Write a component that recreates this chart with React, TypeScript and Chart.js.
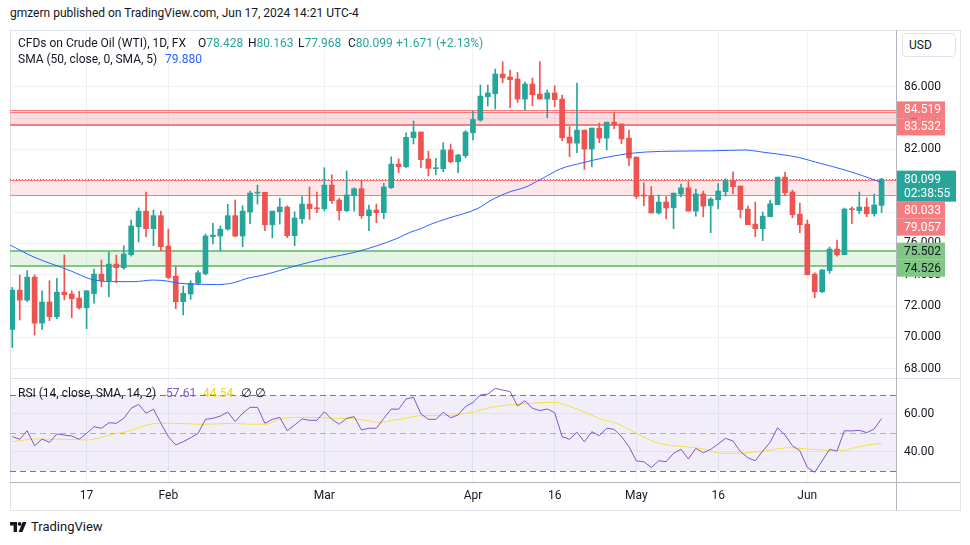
import React, { useEffect, useRef } from "react";
import { Chart, registerables } from "chart.js";

Chart.register(...registerables);

// ---------------- data ----------------
const opens = [
  70.51, 73.02, 72.38, 73.85, 70.91, 72.26, 71.32, 72.89, 72.77, 72.51,
  71.89, 72.79, 74.04, 73.62, 74.68, 74.45, 75.28, 77.06, 78.06, 76.94,
  77.77, 75.83, 73.91, 72.28, 72.77, 73.45, 74.06, 76.43, 76.47, 76.91,
  77.77, 76.47, 78.0, 79.21, 79.26, 77.19, 78.02, 78.32, 76.49, 77.57,
  78.51, 78.26, 78.21, 79.72, 78.77, 78.09, 79.04, 79.49, 77.77, 78.13,
  77.96, 79.55, 81.06, 80.89, 82.74, 83.11, 81.38, 80.77, 80.77, 81.96,
  81.21, 81.6, 83.06, 83.87, 85.36, 85.55, 86.81, 86.62, 86.49, 85.21,
  86.17, 85.53, 85.21, 85.6, 85.21, 82.79, 82.4, 83.23, 82.02, 83.36,
  82.72, 83.74, 83.62, 82.72, 81.51, 79.09, 79.04, 77.94, 78.64, 78.28,
  79.15, 79.55, 78.06, 79.15, 78.4, 78.79, 79.3, 80.0, 79.66, 78.19,
  77.23, 76.94, 77.7, 78.47, 80.23, 79.28, 77.87, 77.23, 74.04, 72.91,
  74.26, 75.64, 75.28, 78.19, 78.09, 78.32, 77.89, 78.428,
];
const highs = [
  73.19, 73.98, 74.26, 73.98, 72.98, 73.62, 73.77, 75.26, 72.98, 72.94,
  72.98, 74.36, 74.94, 75.45, 75.26, 75.85, 77.49, 78.26, 79.28, 78.13,
  78.06, 76.91, 74.51, 73.28, 73.62, 74.26, 76.6, 77.28, 77.11, 78.49,
  78.77, 78.4, 79.34, 79.72, 79.26, 78.06, 78.89, 78.4, 78.02, 78.98,
  79.6, 79.28, 80.83, 80.38, 78.89, 80.62, 79.55, 80.04, 78.45, 78.51,
  79.83, 81.53, 81.4, 83.06, 83.81, 83.11, 81.89, 81.43, 82.43, 82.34,
  81.68, 83.19, 84.45, 86.11, 86.11, 87.13, 87.6, 87.06, 86.91, 86.3,
  86.55, 87.6, 85.79, 86.06, 85.47, 83.45, 86.23, 83.23, 83.36, 83.68,
  83.74, 84.38, 83.62, 83.23, 81.51, 79.87, 79.62, 79.09, 78.98, 79.21,
  79.79, 79.94, 79.47, 79.34, 78.91, 79.81, 80.13, 80.57, 79.66, 78.38,
  78.64, 78.0, 78.77, 80.23, 80.55, 79.4, 78.57, 77.49, 74.13, 74.34,
  75.77, 76.21, 78.26, 78.34, 79.28, 78.91, 79.15, 80.163,
];
const lows = [
  69.36, 71.11, 72.28, 70.15, 70.51, 71.06, 71.19, 72.4, 71.26, 71.81,
  70.55, 72.19, 73.23, 72.6, 73.49, 74.34, 75.19, 76.09, 76.43, 75.85,
  75.53, 73.74, 71.83, 71.43, 72.43, 73.4, 73.98, 75.96, 75.53, 76.85,
  76.43, 75.79, 77.26, 78.51, 76.81, 76.36, 77.23, 76.36, 75.85, 77.28,
  77.53, 77.94, 78.06, 78.55, 77.49, 78.02, 78.06, 77.6, 76.81, 77.32,
  77.57, 79.51, 80.51, 80.83, 82.34, 80.83, 80.3, 80.38, 80.57, 81.15,
  80.51, 81.47, 82.6, 83.81, 84.77, 84.57, 86.26, 84.66, 85.0, 84.51,
  84.79, 85.21, 84.02, 84.72, 82.55, 81.53, 81.79, 80.72, 80.89, 82.43,
  81.96, 83.32, 82.36, 80.96, 78.87, 78.4, 77.94, 77.87, 77.57, 76.94,
  78.96, 78.06, 77.74, 77.7, 76.68, 78.21, 79.02, 79.15, 77.64, 77.19,
  76.43, 76.17, 77.7, 78.47, 79.04, 77.64, 76.68, 74.0, 72.53, 72.85,
  74.09, 75.19, 75.28, 77.26, 77.89, 77.7, 77.74, 77.968,
];
const closes = [
  73.02, 72.38, 73.85, 70.91, 72.26, 71.32, 72.89, 72.72, 72.47, 71.89,
  72.98, 74.04, 73.62, 74.68, 74.45, 75.32, 77.11, 78.06, 76.94, 77.77,
  75.79, 73.83, 72.28, 72.81, 73.45, 74.13, 76.47, 76.53, 76.91, 77.77,
  76.47, 78.06, 79.21, 79.26, 77.19, 78.06, 78.32, 76.49, 77.62, 78.51,
  78.21, 78.21, 79.72, 78.72, 78.09, 79.09, 79.49, 77.77, 78.13, 77.96,
  79.6, 81.06, 80.89, 82.77, 83.11, 81.34, 80.79, 80.81, 81.96, 81.21,
  81.64, 83.11, 83.91, 85.4, 85.6, 86.81, 86.57, 86.45, 85.21, 86.17,
  85.49, 85.21, 85.6, 85.17, 82.74, 82.4, 83.23, 82.02, 83.36, 82.72,
  83.74, 83.55, 82.66, 81.45, 79.0, 79.02, 77.94, 78.64, 78.26, 79.21,
  79.55, 78.06, 79.15, 78.38, 78.83, 79.34, 80.0, 79.62, 78.15, 77.19,
  76.94, 77.74, 78.53, 80.23, 79.23, 77.83, 77.19, 74.0, 72.91, 74.3,
  75.64, 75.28, 78.19, 78.15, 78.32, 77.89, 78.45, 80.099,
];

// SMA(50) line: bar position / value
const smaX = [
  -0.31, 2.8, 7.9, 10.5, 13.2, 16.3, 19, 20.8, 22.6, 25.3, 27.5, 29.8, 31.6,
  33.5, 35.5, 38, 42.5, 45.8, 48.9, 51.8, 53.5, 55.1, 56.2, 58.5, 62.7, 64.3,
  65.4, 67, 69, 71.1, 73.8, 76.8, 79.5, 82.5, 85.2, 89.6, 94.1, 98.6, 100.9,
  105.8, 108.1, 112.1, 116.8, 117,
];
const smaY = [
  75.9, 75.15, 74.24, 73.73, 73.56, 73.56, 73.66, 73.6, 73.45, 73.39, 73.37,
  73.49, 73.77, 73.95, 74.2, 74.55, 75.08, 75.4, 75.82, 76.32, 76.7, 76.96,
  77.2, 77.58, 78.24, 78.72, 78.98, 79.3, 79.58, 80.08, 80.76, 81.15, 81.45,
  81.7, 81.83, 81.89, 81.91, 81.96, 81.83, 81.49, 81.19, 80.68, 79.92, 79.88,
];

// RSI(14), one value per bar
const rsiValues = [
  48.1, 46.7, 51.2, 43.3, 46.8, 45.1, 49.5, 48.9, 48.4, 46.7,
  49.8, 53.3, 52.5, 55.4, 55.1, 57.7, 63.0, 65.1, 60.4, 62.5,
  55.1, 48.1, 43.7, 45.4, 47.5, 49.8, 57.2, 57.7, 58.9, 61.1,
  56.0, 60.4, 63.5, 63.5, 55.1, 57.2, 58.2, 51.2, 54.2, 57.4,
  56.7, 56.7, 61.2, 57.2, 54.6, 57.7, 58.6, 51.6, 52.5, 52.5,
  57.7, 62.6, 62.5, 67.9, 68.8, 60.0, 57.2, 57.2, 60.9, 58.0,
  59.5, 63.9, 66.1, 70.0, 70.5, 73.5, 72.6, 71.8, 64.2, 67.0,
  63.0, 61.8, 62.6, 60.7, 48.1, 46.7, 50.4, 45.4, 50.7, 48.6,
  52.5, 51.9, 48.1, 42.8, 35.3, 34.9, 31.8, 35.4, 34.9, 39.3,
  41.4, 36.3, 41.9, 39.6, 41.4, 44.2, 47.2, 45.8, 40.2, 37.0,
  35.4, 40.5, 45.1, 52.8, 48.9, 43.3, 40.7, 31.9, 29.3, 35.3,
  41.4, 40.5, 51.2, 51.1, 51.4, 50.2, 52.1, 57.61,
];

// RSI-based MA
const rsiMaX = [
  0, 3, 5.5, 7, 10, 12, 14, 15.4, 17.2, 19.4, 20.8, 23, 25.2, 27.5, 29.7, 32,
  34.2, 35.6, 36.5, 38.7, 40.9, 43.2, 45.4, 47.7, 49.5, 51.3, 53, 54.8, 56.6,
  59.9, 62.2, 64.5, 66.7, 69, 71.3, 73.1, 74.5, 76.7, 79, 81.3, 84, 85.8, 87.7,
  90.4, 93.1, 95.4, 97.7, 100.4, 102.7, 104.5, 106.8, 109, 111.1, 113.1, 115, 117,
];
const rsiMaY = [
  45.4, 46.8, 46.7, 46.7, 46.3, 47.7, 49.8, 50.7, 53.0, 55.1, 55.1, 55.0, 54.6,
  54.8, 55.1, 54.6, 54.7, 56.8, 57.7, 58.2, 58.2, 57.7, 57.7, 56.5, 55.6, 56.8,
  57.7, 59.1, 59.1, 59.6, 61.2, 63.5, 64.7, 65.3, 66.0, 66.1, 64.7, 61.6, 57.7,
  55.1, 49.8, 46.3, 44.0, 42.8, 41.6, 39.3, 39.3, 40.2, 41.4, 42.3, 41.6, 41.1,
  40.5, 41.9, 43.7, 44.54,
];

const tickIdx = [10, 21, 42, 62, 73, 84, 95, 107];
const tickLabels = ["17", "Feb", "Mar", "Apr", "16", "May", "16", "Jun"];
const priceTicks = [68, 70, 72, 74, 76, 78, 80, 82, 84, 86];
const rsiTicks = [40, 60];
const rsiLevels = [70, 50, 30];
const redZones = [
  [84.519, 83.532],
  [80.033, 79.057],
];
const greenZone = [75.502, 74.526];
const lastPrice = 80.099;
const countdown = "02:38:55";
const changeText = "+1.671 (+2.13%)";

// ---------------- styles ----------------
const FONT = 'Roboto, "Noto Sans", "DejaVu Sans", sans-serif';
const UP = "#26a69a";
const DOWN = "#ef5350";
const GRID = "#edf0f5";
const TEXT = "#131722";
const RED_LINE = "#f77c80";
const GREEN_LINE = "#81c784";
const AXIS_LINE = "#b2b5be";
const X_MIN = -0.31;
const X_MAX = 118.94;

const n = closes.length;
const idx = closes.map((_, i) => i);
const candleColors = idx.map((i) => (closes[i] >= opens[i] ? UP : DOWN));

function hline(ctx: CanvasRenderingContext2D, x1: number, x2: number, y: number, color: string, w: number, dash: number[] = []) {
  ctx.save();
  ctx.strokeStyle = color;
  ctx.lineWidth = w;
  ctx.setLineDash(dash);
  const yy = w % 2 === 1 ? Math.round(y) + 0.5 : Math.round(y);
  ctx.beginPath();
  ctx.moveTo(x1, yy);
  ctx.lineTo(x2, yy);
  ctx.stroke();
  ctx.restore();
}

const zonePlugin = {
  id: "zones",
  beforeDatasetsDraw(chart: any) {
    const { ctx, chartArea: a, scales } = chart;
    const y = scales.y;
    ctx.save();
    ctx.beginPath();
    ctx.rect(a.left, a.top, a.right - a.left, a.bottom - a.top);
    ctx.clip();
    redZones.forEach(([top, bot], k) => {
      const y1 = y.getPixelForValue(top);
      const y2 = y.getPixelForValue(bot);
      ctx.fillStyle = k === 0 ? "rgba(242,54,69,0.17)" : "rgba(242,54,69,0.12)";
      ctx.fillRect(a.left, y1, a.right - a.left, y2 - y1);
      hline(ctx, a.left, a.right, y1, RED_LINE, 1);
      if (k === 0) hline(ctx, a.left, a.right, y1 + 2, RED_LINE, 1);
      hline(ctx, a.left, a.right, y2, RED_LINE, k === 0 ? 2 : 1);
    });
    const g1 = y.getPixelForValue(greenZone[0]);
    const g2 = y.getPixelForValue(greenZone[1]);
    ctx.fillStyle = "rgba(129,199,132,0.2)";
    ctx.fillRect(a.left, g1, a.right - a.left, g2 - g1);
    hline(ctx, a.left, a.right, g1, GREEN_LINE, 2);
    hline(ctx, a.left, a.right, g2, GREEN_LINE, 2);
    hline(ctx, a.left, a.right, y.getPixelForValue(lastPrice), UP, 1, [1, 2]);
    ctx.restore();
  },
};

const badgePlugin = {
  id: "badges",
  afterDraw(chart: any) {
    const { ctx, chartArea: a, scales } = chart;
    const y = scales.y;
    const items = [
      { lines: [redZones[0][0].toFixed(3)], v: redZones[0][0], bg: RED_LINE, fg: "#ffffff", w: 48 },
      { lines: [redZones[0][1].toFixed(3)], v: redZones[0][1], bg: RED_LINE, fg: "#ffffff", w: 48 },
      { lines: [lastPrice.toFixed(3), countdown], v: lastPrice, bg: UP, fg: "#ffffff", w: 59 },
      { lines: [redZones[1][0].toFixed(3)], v: redZones[1][0], bg: RED_LINE, fg: "#ffffff", w: 48 },
      { lines: [redZones[1][1].toFixed(3)], v: redZones[1][1], bg: RED_LINE, fg: "#ffffff", w: 48 },
      { lines: [greenZone[0].toFixed(3)], v: greenZone[0], bg: GREEN_LINE, fg: TEXT, w: 48 },
      { lines: [greenZone[1].toFixed(3)], v: greenZone[1], bg: GREEN_LINE, fg: TEXT, w: 48 },
    ];
    let prevBottom = -1e9;
    ctx.save();
    ctx.font = `12px ${FONT}`;
    ctx.textBaseline = "middle";
    ctx.textAlign = "left";
    items.forEach((it) => {
      const h = it.lines.length === 1 ? 17 : 31;
      let top = y.getPixelForValue(it.v) - 8.5;
      if (top < prevBottom) top = prevBottom;
      prevBottom = top + h;
      const x = a.right + 1;
      ctx.fillStyle = it.bg;
      ctx.fillRect(x, top, it.w, h);
      ctx.fillStyle = it.fg;
      it.lines.forEach((t, k) => ctx.fillText(t, x + 7, top + 9 + k * 14.5));
    });
    ctx.restore();
  },
};

const rsiBandPlugin = {
  id: "rsiBand",
  beforeDatasetsDraw(chart: any) {
    const { ctx, chartArea: a, scales } = chart;
    const y = scales.y;
    const t = y.getPixelForValue(rsiLevels[0]);
    const b = y.getPixelForValue(rsiLevels[2]);
    ctx.save();
    ctx.fillStyle = "rgba(126,87,194,0.1)";
    ctx.fillRect(a.left, t, a.right - a.left, b - t);
    rsiLevels.forEach((lv, k) => {
      hline(ctx, a.left, a.right, y.getPixelForValue(lv), k === 1 ? "rgba(120,123,134,0.55)" : "#787b86", 1, [6, 4]);
    });
    ctx.restore();
  },
};

export default function App() {
  const mainRef = useRef<HTMLCanvasElement>(null);
  const rsiRef = useRef<HTMLCanvasElement>(null);

  useEffect(() => {
    Chart.defaults.font.family = FONT;
    const xCommon = (showLabels: boolean) => ({
      type: "linear" as const,
      min: X_MIN,
      max: X_MAX,
      offset: false,
      afterBuildTicks: (s: any) => {
        s.ticks = tickIdx.map((v) => ({ value: v }));
      },
      afterFit: (s: any) => {
        s.height = showLabels ? 28 : 0;
        s.paddingLeft = 0;
        s.paddingRight = 0;
      },
      ticks: {
        display: showLabels,
        autoSkip: false,
        maxRotation: 0,
        padding: 7,
        color: TEXT,
        font: { size: 12, family: FONT },
        callback: (_v: any, i: number) => tickLabels[i] ?? "",
      },
      grid: { color: GRID, drawTicks: false, offset: false },
      border: { display: false },
    });

    const main = new Chart(mainRef.current as HTMLCanvasElement, {
      type: "bar",
      data: {
        datasets: [
          {
            type: "line",
            data: smaX.map((x, k) => ({ x, y: smaY[k] })),
            borderColor: "#2962ff",
            borderWidth: 1,
            pointRadius: 0,
            cubicInterpolationMode: "monotone",
          } as any,
          {
            type: "bar",
            data: idx.map((i) => ({ x: i, y: [opens[i], closes[i]] })),
            backgroundColor: candleColors,
            barThickness: 5,
            grouped: false,
            minBarLength: 1,
          } as any,
          {
            type: "bar",
            data: idx.map((i) => ({ x: i, y: [lows[i], highs[i]] })),
            backgroundColor: candleColors,
            barThickness: 1,
            grouped: false,
          } as any,
        ],
      },
      options: {
        animation: false,
        responsive: false,
        events: [],
        layout: { padding: 0 },
        plugins: { legend: { display: false }, tooltip: { enabled: false } },
        scales: {
          x: xCommon(false) as any,
          y: {
            position: "right",
            min: 67.346,
            max: 89.555,
            afterBuildTicks: (s: any) => {
              s.ticks = priceTicks.map((v) => ({ value: v }));
            },
            afterFit: (s: any) => {
              s.width = 64;
              s.paddingTop = 0;
              s.paddingBottom = 0;
            },
            ticks: {
              crossAlign: "near",
              padding: 8,
              color: TEXT,
              font: { size: 12, family: FONT },
              callback: (v: any) => Number(v).toFixed(3),
            },
            grid: { color: GRID, drawTicks: false },
            border: { display: false },
          } as any,
        },
      },
      plugins: [zonePlugin, badgePlugin],
    });

    const rsi = new Chart(rsiRef.current as HTMLCanvasElement, {
      type: "line",
      data: {
        datasets: [
          {
            data: idx.map((i) => ({ x: i, y: rsiValues[i] })),
            borderColor: "#7e57c2",
            borderWidth: 1,
            pointRadius: 0,
            tension: 0,
          },
          {
            data: rsiMaX.map((x, k) => ({ x, y: rsiMaY[k] })),
            borderColor: "#f5e13d",
            borderWidth: 1,
            pointRadius: 0,
            cubicInterpolationMode: "monotone",
          } as any,
        ],
      },
      options: {
        animation: false,
        responsive: false,
        events: [],
        layout: { padding: 0 },
        plugins: { legend: { display: false }, tooltip: { enabled: false } },
        scales: {
          x: xCommon(true) as any,
          y: {
            position: "right",
            min: 24.21,
            max: 78.42,
            afterBuildTicks: (s: any) => {
              s.ticks = rsiTicks.map((v) => ({ value: v }));
            },
            afterFit: (s: any) => {
              s.width = 64;
              s.paddingTop = 0;
              s.paddingBottom = 0;
            },
            ticks: {
              crossAlign: "near",
              padding: 8,
              color: TEXT,
              font: { size: 12, family: FONT },
              callback: (v: any) => Number(v).toFixed(2),
            },
            grid: { color: GRID, drawTicks: false },
            border: { display: false },
          } as any,
        },
      },
      plugins: [rsiBandPlugin],
    });

    return () => {
      main.destroy();
      rsi.destroy();
    };
  }, []);

  const abs = (left: number, top: number, extra: React.CSSProperties = {}): React.CSSProperties => ({
    position: "absolute",
    left,
    top,
    whiteSpace: "nowrap",
    lineHeight: "16px",
    ...extra,
  });

  const last = n - 1;
  const FS = 12;

  return (
    <div
      style={{
        position: "fixed",
        left: 0,
        top: 0,
        width: 970,
        height: 545,
        background: "#ffffff",
        fontFamily: FONT,
        color: TEXT,
        overflow: "hidden",
      }}
    >
      <div style={abs(10, 5, { fontSize: FS })}>gmzern published on TradingView.com, Jun 17, 2024 14:21 UTC-4</div>

      <div
        style={{
          position: "absolute",
          left: 10,
          top: 30,
          width: 951,
          height: 481,
          boxSizing: "border-box",
          border: "1px solid #e0e3eb",
        }}
      />
      <canvas ref={mainRef} width={950} height={348} style={{ position: "absolute", left: 10, top: 31 }} />
      <canvas ref={rsiRef} width={950} height={131} style={{ position: "absolute", left: 10, top: 379 }} />

      <div style={{ position: "absolute", left: 10, top: 378, width: 950, height: 1, background: "#e0e3eb" }} />
      <div style={{ position: "absolute", left: 896, top: 30, width: 1, height: 480, background: AXIS_LINE }} />
      <div style={{ position: "absolute", left: 10, top: 482, width: 950, height: 1, background: AXIS_LINE }} />

      <div
        style={abs(902, 33, {
          width: 54,
          height: 24,
          boxSizing: "border-box",
          border: "1px solid #e0e3eb",
          borderRadius: 4,
          fontSize: 12,
          lineHeight: "22px",
          paddingLeft: 6,
          background: "#fff",
        })}
      >
        USD
      </div>

      {/* main legend */}
      <div style={abs(18, 35, { fontSize: FS })}>CFDs on Crude Oil (WTI), 1D, FX</div>
      <div style={abs(198, 35, { fontSize: FS })}>
        O<span style={{ color: UP }}>{opens[last].toFixed(3)}</span>
      </div>
      <div style={abs(248, 35, { fontSize: FS })}>
        H<span style={{ color: UP }}>{highs[last].toFixed(3)}</span>
      </div>
      <div style={abs(298, 35, { fontSize: FS })}>
        L<span style={{ color: UP }}>{lows[last].toFixed(3)}</span>
      </div>
      <div style={abs(348, 35, { fontSize: FS })}>
        C<span style={{ color: UP }}>{closes[last].toFixed(3)}</span>
      </div>
      <div style={abs(396, 35, { fontSize: FS, color: UP })}>{changeText}</div>
      <div style={abs(18, 51, { fontSize: FS })}>SMA (50, close, 0, SMA, 5)</div>
      <div style={abs(165, 51, { fontSize: FS, color: "#2962ff" })}>{smaY[smaY.length - 1].toFixed(3)}</div>

      {/* RSI legend */}
      <div style={abs(18, 385, { fontSize: FS })}>RSI (14, close, SMA, 14, 2)</div>
      <div style={abs(166, 385, { fontSize: FS, color: "#7e57c2" })}>{rsiValues[last].toFixed(2)}</div>
      <div style={abs(203, 385, { fontSize: FS, color: "#e8d32c" })}>{rsiMaY[rsiMaY.length - 1].toFixed(2)}</div>
      <div style={abs(241, 385, { fontSize: FS })}>∅</div>
      <div style={abs(255, 385, { fontSize: FS })}>∅</div>

      {/* footer */}
      <svg width={17} height={10} viewBox="0 0 17 10" style={{ position: "absolute", left: 10, top: 522 }}>
        <path d="M0 0 H7 V10 H3.6 V3.4 H0 Z" fill="#131722" />
        <circle cx={9.6} cy={1.9} r={1.9} fill="#131722" />
        <path d="M8.6 10 L12.6 0 H16.5 L12.4 10 Z" fill="#131722" />
      </svg>
      <div style={abs(31, 519, { fontSize: 13 })}>TradingView</div>
    </div>
  );
}
